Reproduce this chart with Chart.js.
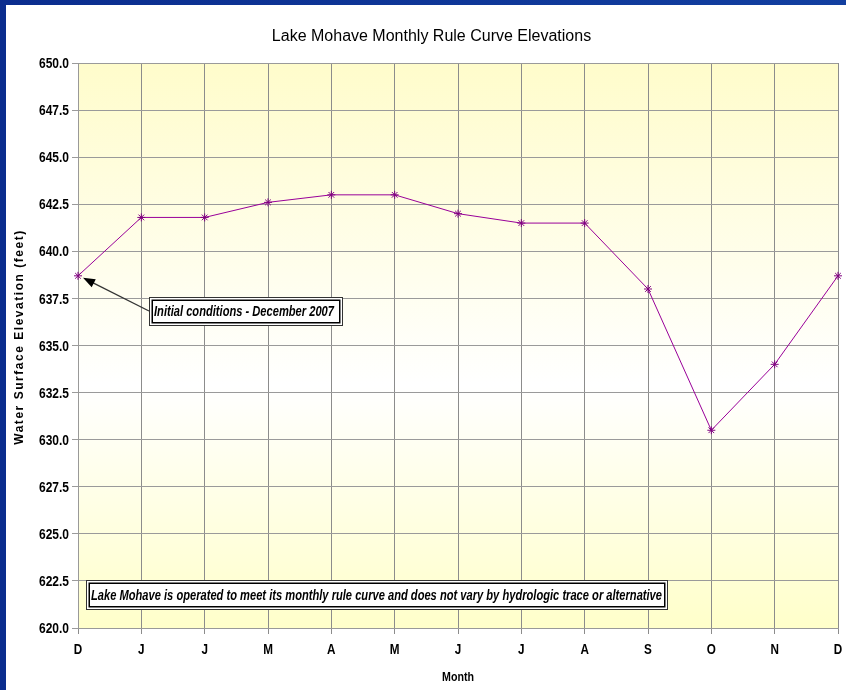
<!DOCTYPE html>
<html>
<head>
<meta charset="utf-8">
<title>Lake Mohave Monthly Rule Curve Elevations</title>
<script src="https://cdn.jsdelivr.net/npm/chart.js@4"></script>
<style>
  html, body { margin: 0; padding: 0; }
  body {
    width: 846px; height: 690px; overflow: hidden;
    background: linear-gradient(90deg, #0b2d8e 0%, #123fa0 100%);
    position: relative;
  }
  #panel {
    position: absolute; left: 6px; top: 5px;
    width: 840px; height: 685px; background: #ffffff;
  }
  canvas { display: block; }
</style>
</head>
<body>
<div id="panel"><canvas id="chart" width="840" height="685"></canvas></div>
<script>
// Months from December 2007 through December 2008
const months = ['D', 'J', 'J', 'M', 'A', 'M', 'J', 'J', 'A', 'S', 'O', 'N', 'D'];
// End-of-month rule curve elevation, feet
const elevations = [638.7, 641.8, 641.8, 642.6, 643.0, 643.0, 642.0, 641.5, 641.5, 638.0, 630.5, 634.0, 638.7];
// Vertical axis range and step
const yMin = 620.0;
const yMax = 650.0;
const yStep = 2.5;

const chartTitle = 'Lake Mohave Monthly Rule Curve Elevations';
const yTitle = 'Water Surface Elevation (feet)';
const xTitle = 'Month';
const noteInitial = 'Initial conditions - December 2007';
const noteOperation = 'Lake Mohave is operated to meet its monthly rule curve and does not vary by hydrologic trace or alternative';

const SANS = '"Liberation Sans", Arial, sans-serif';

// Draws text squeezed horizontally by factor sx (narrow face look)
function narrowText(ctx, text, x, y, sx, align) {
  ctx.save();
  ctx.translate(x, y);
  ctx.scale(sx, 1);
  ctx.textAlign = align || 'left';
  ctx.fillText(text, 0, 0);
  ctx.restore();
}

// Plot background: pale yellow at top and bottom, white through the middle
const plotBackground = {
  id: 'plotBackground',
  beforeDraw(chart) {
    const { ctx, chartArea: a } = chart;
    const g = ctx.createLinearGradient(0, a.top, 0, a.bottom);
    g.addColorStop(0, '#fffccb');
    g.addColorStop(0.57, '#ffffff');
    g.addColorStop(1, '#ffffca');
    ctx.save();
    ctx.fillStyle = g;
    ctx.fillRect(a.left, a.top, a.right - a.left, a.bottom - a.top);
    ctx.restore();
  }
};

// Title, tick labels and axis titles in a condensed bold style
const labels = {
  id: 'labels',
  afterDraw(chart) {
    const { ctx, chartArea: a, scales: { x, y } } = chart;
    ctx.save();
    ctx.fillStyle = '#000';
    ctx.textBaseline = 'middle';

    ctx.font = 'normal 16px ' + SANS;
    narrowText(ctx, chartTitle, 425.5, 32, 1, 'center');

    ctx.font = 'bold 15px ' + SANS;
    y.ticks.forEach(t => {
      narrowText(ctx, Number(t.value).toFixed(1), a.left - 9, y.getPixelForValue(t.value) + 1, 0.8, 'right');
    });
    months.forEach((m, i) => {
      narrowText(ctx, m, x.getPixelForValue(i), 645, 0.78, 'center');
    });

    ctx.font = 'bold 13px ' + SANS;
    narrowText(ctx, xTitle, (a.left + a.right) / 2, 672, 0.82, 'center');

    // vertical axis title, spaced out along the axis
    ctx.font = 'bold 12px ' + SANS;
    const w = ctx.measureText(yTitle).width;
    const gap = Math.max(0, (214 - w) / (yTitle.length - 1));
    ctx.translate(14, 332);
    ctx.rotate(-Math.PI / 2);
    ctx.letterSpacing = gap.toFixed(2) + 'px';
    ctx.textAlign = 'center';
    ctx.fillText(yTitle, 0, 0);
    ctx.restore();
  }
};

function framedNote(ctx, text, left, top, right, bottom, textWidth) {
  ctx.save();
  ctx.fillStyle = '#ffffff';
  ctx.fillRect(left, top, right - left, bottom - top);
  ctx.strokeStyle = '#333';
  ctx.lineWidth = 1;
  ctx.strokeRect(left + 0.5, top + 0.5, right - left - 1, bottom - top - 1);
  ctx.lineWidth = 1.5;
  ctx.strokeStyle = '#000';
  ctx.strokeRect(left + 3.25, top + 3.25, right - left - 6.5, bottom - top - 6.5);
  ctx.fillStyle = '#000';
  ctx.font = 'italic bold 14px ' + SANS;
  ctx.textBaseline = 'middle';
  const sx = textWidth / ctx.measureText(text).width;
  narrowText(ctx, text, left + 5, (top + bottom) / 2 + 1, sx, 'left');
  ctx.restore();
}

// Callout boxes and the arrow to the starting point
const notes = {
  id: 'notes',
  afterDatasetsDraw(chart) {
    const { ctx, scales: { x, y } } = chart;
    const px = x.getPixelForValue(0);
    const py = y.getPixelForValue(elevations[0]);

    // arrow from the first callout to the December 2007 point
    const sx = 143, sy = 306;
    const ex = px + 5, ey = py + 2;
    const ang = Math.atan2(ey - sy, ex - sx);
    ctx.save();
    ctx.strokeStyle = '#333';
    ctx.lineWidth = 1.3;
    ctx.beginPath();
    ctx.moveTo(sx, sy);
    ctx.lineTo(ex - 8 * Math.cos(ang), ey - 8 * Math.sin(ang));
    ctx.stroke();
    ctx.fillStyle = '#000';
    ctx.beginPath();
    ctx.moveTo(ex, ey);
    ctx.lineTo(ex - 12 * Math.cos(ang) + 4.5 * Math.sin(ang), ey - 12 * Math.sin(ang) - 4.5 * Math.cos(ang));
    ctx.lineTo(ex - 12 * Math.cos(ang) - 4.5 * Math.sin(ang), ey - 12 * Math.sin(ang) + 4.5 * Math.cos(ang));
    ctx.closePath();
    ctx.fill();
    ctx.restore();

    framedNote(ctx, noteInitial, 143, 292, 337, 321, 180);
    framedNote(ctx, noteOperation, 80, 575, 662, 605, 571);
  }
};

new Chart(document.getElementById('chart'), {
  type: 'line',
  data: {
    labels: months,
    datasets: [{
      data: elevations,
      borderColor: '#990099',
      borderWidth: 1,
      pointStyle: 'star',
      pointRadius: 4,
      pointBorderColor: '#800080',
      pointBorderWidth: 1,
      pointBackgroundColor: '#800080',
      tension: 0,
      clip: false
    }]
  },
  options: {
    responsive: false,
    animation: false,
    events: [],
    layout: { padding: { top: 58, right: 8, bottom: 0, left: 0 } },
    plugins: {
      legend: { display: false },
      tooltip: { enabled: false },
      title: { display: false }
    },
    scales: {
      x: {
        type: 'category',
        offset: false,
        grid: { color: '#8c8c8c', lineWidth: 1, tickLength: 6, drawTicks: true },
        border: { color: '#999', width: 1 },
        ticks: { display: false, autoSkip: false },
        afterFit(scale) { scale.height = 62; }
      },
      y: {
        min: yMin,
        max: yMax,
        grid: { color: '#9a9a9a', lineWidth: 1, tickLength: 6, drawTicks: true },
        border: { color: '#999', width: 1 },
        ticks: { display: false, stepSize: yStep },
        afterFit(scale) { scale.width = 72; }
      }
    }
  },
  plugins: [plotBackground, notes, labels]
});
</script>
</body>
</html>
